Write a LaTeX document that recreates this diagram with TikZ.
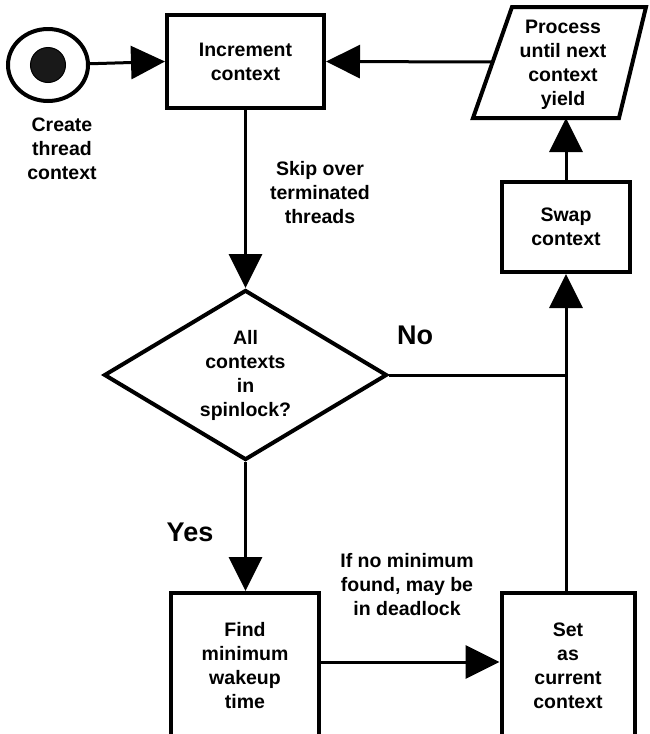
\documentclass[tikz,border=0pt]{standalone}
\usepackage{fontspec}
\setmainfont{Liberation Sans}
\usetikzlibrary{shapes.geometric,arrows.meta}
\begin{document}
\begin{tikzpicture}[x=1pt,y=-1pt,
  txt/.style={font=\bfseries\fontsize{19.5}{24}\selectfont, align=center, inner sep=0pt},
  big/.style={font=\bfseries\fontsize{27}{30}\selectfont, inner sep=0pt},
  box/.style={txt, draw, line width=4pt, shape=rectangle},
  conn/.style={line width=3pt},
  arr/.style={conn, -{Triangle[length=34pt,width=33pt]}}
]
\useasboundingbox (0,0) rectangle (650,734);
\fill[white] (0,0) rectangle (650,734);

% start symbol
\node[draw, ellipse, line width=4pt, minimum width=80pt, minimum height=72pt, inner sep=0pt] (start) at (48,65) {};
\node[fill=black!90, draw=black, line width=1pt, circle, minimum size=35pt, inner sep=0pt] (dot) at (start.center) {};
\node[txt] (create) at (62,149) {Create\\thread\\context};

% boxes
\node[box, minimum width=157pt, minimum height=93pt] (inc) at (245.5,61.5) {Increment\\context};
\node[box, minimum width=128pt, minimum height=90pt] (swap) at (566,227) {Swap\\context};
\node[box, minimum width=148pt, minimum height=146pt] (find) at (245,666) {Find\\minimum\\wakeup\\time};
\node[box, minimum width=133pt, minimum height=146pt] (set) at (568,666) {Set\\as\\current\\context};
\node[txt, draw, shape=diamond, line width=4pt, minimum width=283pt, minimum height=170pt, aspect=1.66] (dia) at (245.5,375) {All\\contexts\\in\\spinlock?};

% parallelogram
\draw[line width=4pt, line join=miter] (512,7) -- (646,7) -- (619,118) -- (473,118) -- cycle;
\node[txt] (proc) at (563,64.5) {Process\\until next\\context\\yield};
\coordinate (procL) at (492.7,62);
\coordinate (procB) at (566,118);

% connectors
\draw[arr] (start) -- (inc.west);
\draw[arr] (procL) -- (inc.east);
\draw[arr] (swap.north) -- (procB);
\draw[arr] (inc.south) -- (dia.north);
\draw[arr] (dia.south) -- (dia.south |- find.north);
\draw[arr] (set.north -| swap.south) -- (swap.south);
\draw[conn] (dia.east) -- (dia.east -| swap.south);
\draw[arr] ([yshift=4pt]find.east) -- ([yshift=4pt]set.west);

% labels
\node[txt] (skip) at (320,193) {Skip over\\terminated\\threads};
\node[txt] (ifno) at (407,585) {If no minimum\\found, may be\\in deadlock};
\node[big] (yes) at (190,532) {Yes};
\node[big] (no) at (415,335) {No};
\end{tikzpicture}
\end{document}
